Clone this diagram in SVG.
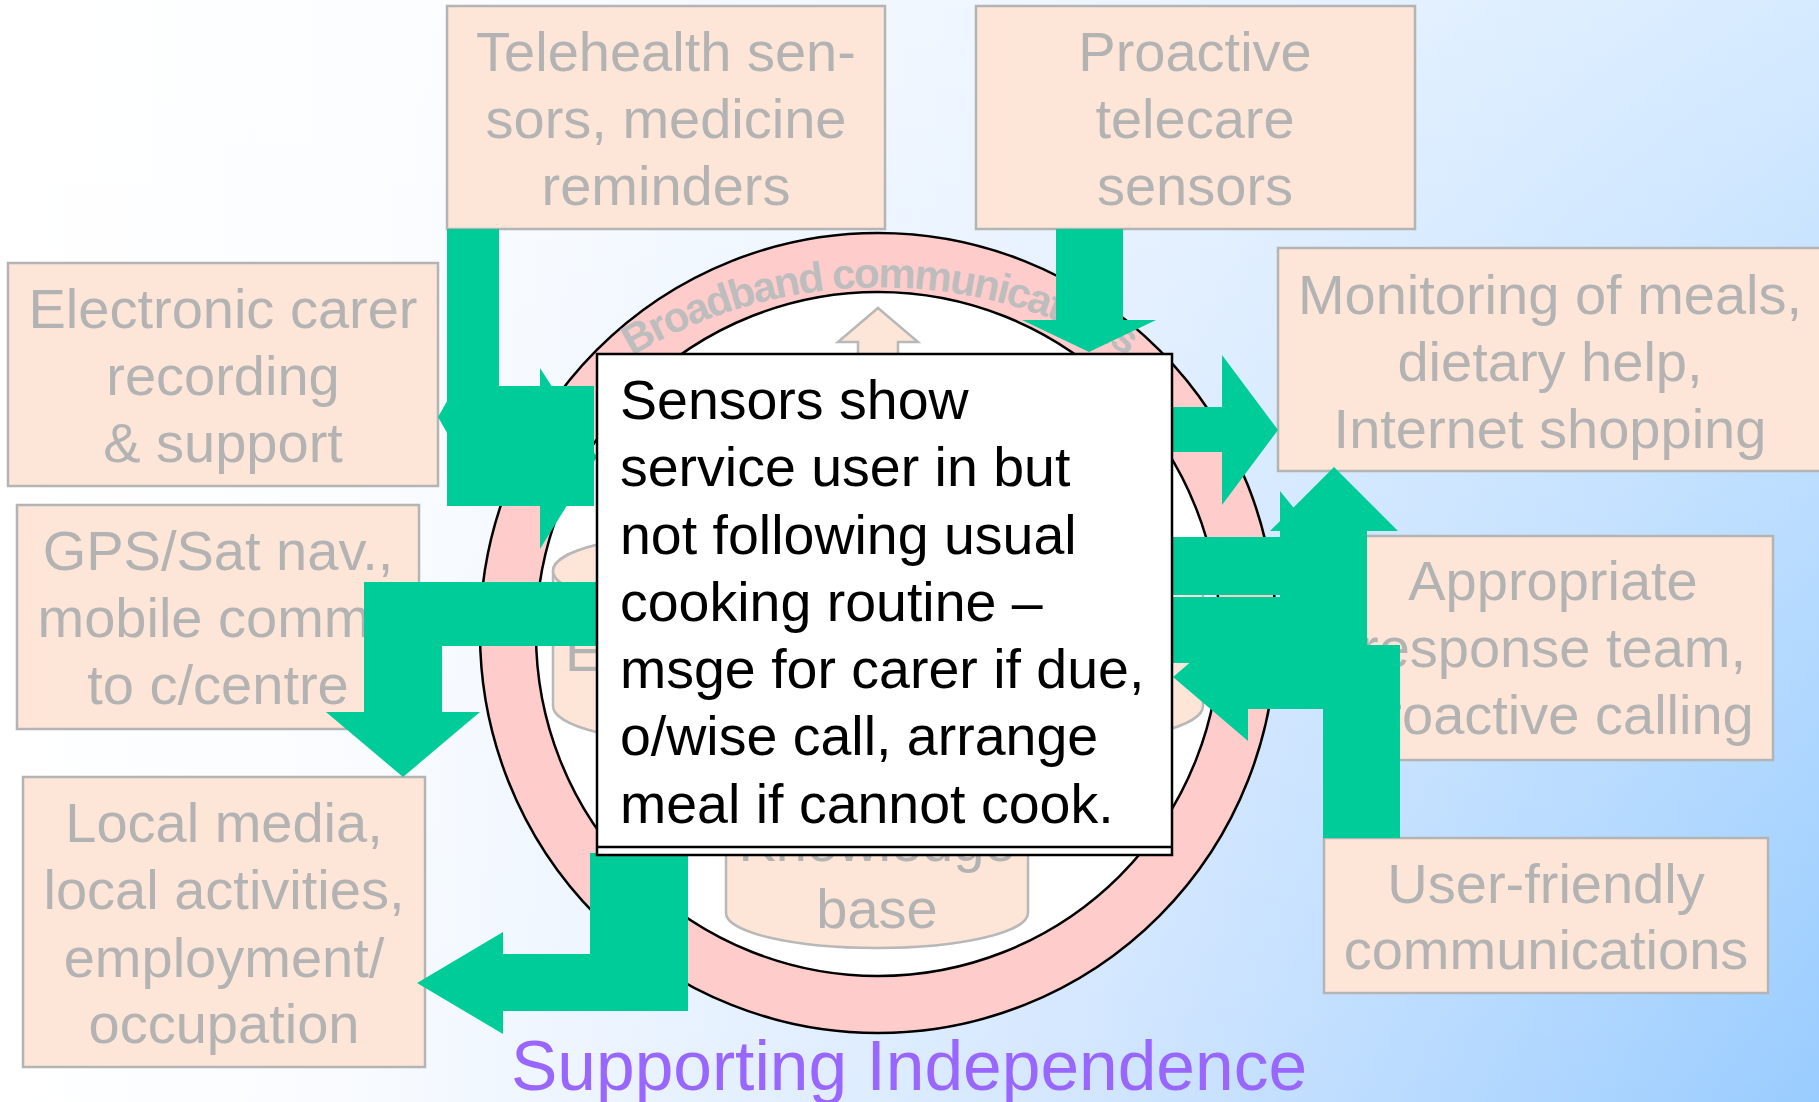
<svg xmlns="http://www.w3.org/2000/svg" width="1819" height="1102" viewBox="0 0 1819 1102">
<defs>
<linearGradient id="bgH" x1="0" y1="0" x2="1" y2="0">
<stop offset="0" stop-color="#FFFFFF"/>
<stop offset="0.2" stop-color="#F8FBFF"/>
<stop offset="0.6" stop-color="#D2E6FF"/>
<stop offset="1" stop-color="#99CCFF"/>
</linearGradient>
<linearGradient id="bgV" x1="0" y1="0" x2="0" y2="1">
<stop offset="0" stop-color="#FFFFFF" stop-opacity="0.6"/>
<stop offset="1" stop-color="#FFFFFF" stop-opacity="0"/>
</linearGradient>
<path id="arc" d="M632,356 A483,483 0 0 1 1296,525"/>
<style>
.box{fill:#FDE6D8;stroke:#B4B4B4;stroke-width:2.5}
.lbl{font-family:"Liberation Sans",Arial,sans-serif;font-size:56px;fill:#B3B3B3;text-anchor:middle}
.arrow{fill:#00CC99}
.cyl{fill:#FDE6D8;stroke:#B8B8B8;stroke-width:2.5}
.main{font-family:"Liberation Sans",Arial,sans-serif;font-size:55.5px;fill:#000000}
</style>
</defs>
<rect x="0" y="0" width="1819" height="1102" fill="url(#bgH)"/>
<rect x="0" y="0" width="1819" height="1102" fill="url(#bgV)"/>

<g id="ring">
<ellipse cx="878" cy="633" rx="398" ry="400" fill="#FFCCCC" stroke="#000" stroke-width="2.5"/>
<ellipse cx="878" cy="634" rx="342" ry="342" fill="#FFFFFF" stroke="#000" stroke-width="2.5"/>
<text font-family="'Liberation Sans',Arial,sans-serif" font-size="42" font-weight="bold" letter-spacing="-2" fill="#BDBDBD"><textPath href="#arc">Broadband communications</textPath></text>
</g>

<g id="inner">
<polygon class="cyl" points="878,308 918,342 898,342 898,370 858,370 858,342 838,342"/>
<path class="cyl" d="M553,571 A150,37 0 0 1 853,571 L853,706 A150,37 0 0 1 553,706 Z"/>
<ellipse class="cyl" cx="703" cy="571" rx="150" ry="37"/>
<path class="cyl" d="M903,571 A150,37 0 0 1 1203,571 L1203,706 A150,37 0 0 1 903,706 Z"/>
<ellipse class="cyl" cx="1053" cy="571" rx="150" ry="37"/>
<path class="cyl" d="M726,770 A151,35 0 0 1 1028,770 L1028,913 A151,35 0 0 1 726,913 Z"/>
<text class="lbl" x="565" y="671" style="text-anchor:start">E</text>
<text class="lbl" x="877" y="861">Knowledge</text>
<text class="lbl" x="877" y="928">base</text>
</g>

<g id="telehealth">
<rect class="box" x="447" y="6" width="438" height="223"/>
<text class="lbl" x="666" y="71">Telehealth sen-</text>
<text class="lbl" x="666" y="138">sors, medicine</text>
<text class="lbl" x="666" y="205">reminders</text>
</g>
<g id="proactive">
<rect class="box" x="976" y="6" width="439" height="223"/>
<text class="lbl" x="1195" y="71">Proactive</text>
<text class="lbl" x="1195" y="138">telecare</text>
<text class="lbl" x="1195" y="205">sensors</text>
</g>
<g id="electronic">
<rect class="box" x="8" y="263" width="430" height="223"/>
<text class="lbl" x="223" y="328">Electronic carer</text>
<text class="lbl" x="223" y="395">recording</text>
<text class="lbl" x="223" y="462">&amp; support</text>
</g>
<g id="gps">
<rect class="box" x="17" y="505" width="402" height="224"/>
<text class="lbl" x="218" y="570">GPS/Sat nav.,</text>
<text class="lbl" x="218" y="637">mobile comms</text>
<text class="lbl" x="218" y="704">to c/centre</text>
</g>
<g id="localmedia">
<rect class="box" x="23" y="777" width="402" height="290"/>
<text class="lbl" x="224" y="842">Local media,</text>
<text class="lbl" x="224" y="909">local activities,</text>
<text class="lbl" x="224" y="977">employment/</text>
<text class="lbl" x="224" y="1043">occupation</text>
</g>
<g id="monitoring">
<rect class="box" x="1278" y="248" width="546" height="223"/>
<text class="lbl" x="1550" y="314">Monitoring of meals,</text>
<text class="lbl" x="1550" y="381">dietary help,</text>
<text class="lbl" x="1550" y="448">Internet shopping</text>
</g>
<g id="appropriate">
<rect class="box" x="1365" y="536" width="408" height="224"/>
<text class="lbl" x="1553" y="600">Appropriate</text>
<text class="lbl" x="1553" y="667">response team,</text>
<text class="lbl" x="1553" y="734">proactive calling</text>
</g>
<g id="userfriendly">
<rect class="box" x="1324" y="838" width="444" height="155"/>
<text class="lbl" x="1546" y="903">User-friendly</text>
<text class="lbl" x="1546" y="969">communications</text>
</g>

<g id="connectors">
<polygon class="arrow" points="438,417 450,396 450,438"/>
<polygon class="arrow" points="447,229 499,229 499,386 594,386 594,506 447,506"/>
<polygon class="arrow" points="540,368 597,457 540,549"/>
<polygon class="arrow" points="1056,229 1123,229 1123,320 1156,320 1089,352 1022,320 1056,320"/>
<polygon class="arrow" points="1172,407 1222,407 1222,355 1278,430 1222,505 1222,452 1172,452"/>
<polygon class="arrow" points="597,582 364,582 364,712 326,712 403,777 480,712 442,712 442,646 597,646"/>
<polygon class="arrow" points="590,853 688,853 688,1011 503,1011 503,1034 417,983 503,932 503,954 590,954"/>
<polygon class="arrow" points="1280,491 1341,566 1280,641"/>
<rect class="arrow" x="1172" y="537" width="118" height="58"/>
<rect class="arrow" x="1172" y="597" width="129" height="66"/>
<polygon class="arrow" points="1270,531 1334,467 1398,531 1367,531 1367,709 1301,709 1301,531"/>
<polygon class="arrow" points="1173,677 1248,613 1248,645 1323,645 1400,645 1400,838 1323,838 1323,709 1248,709 1248,741"/>
</g>

<g id="center">
<rect x="597" y="354" width="575" height="501" fill="#FFFFFF" stroke="#000" stroke-width="2.5"/>
<line x1="597" y1="847" x2="1172" y2="847" stroke="#000" stroke-width="2.5"/>
<text class="main" x="620" y="419">Sensors show</text>
<text class="main" x="620" y="486">service user in but</text>
<text class="main" x="620" y="554">not following usual</text>
<text class="main" x="620" y="621">cooking routine –</text>
<text class="main" x="620" y="688">msge for carer if due,</text>
<text class="main" x="620" y="755">o/wise call, arrange</text>
<text class="main" x="620" y="823">meal if cannot cook.</text>
</g>

<text id="title" x="511" y="1090" font-family="'Liberation Sans',Arial,sans-serif" font-size="69.5" fill="#9966FF">Supporting Independence</text>
</svg>
